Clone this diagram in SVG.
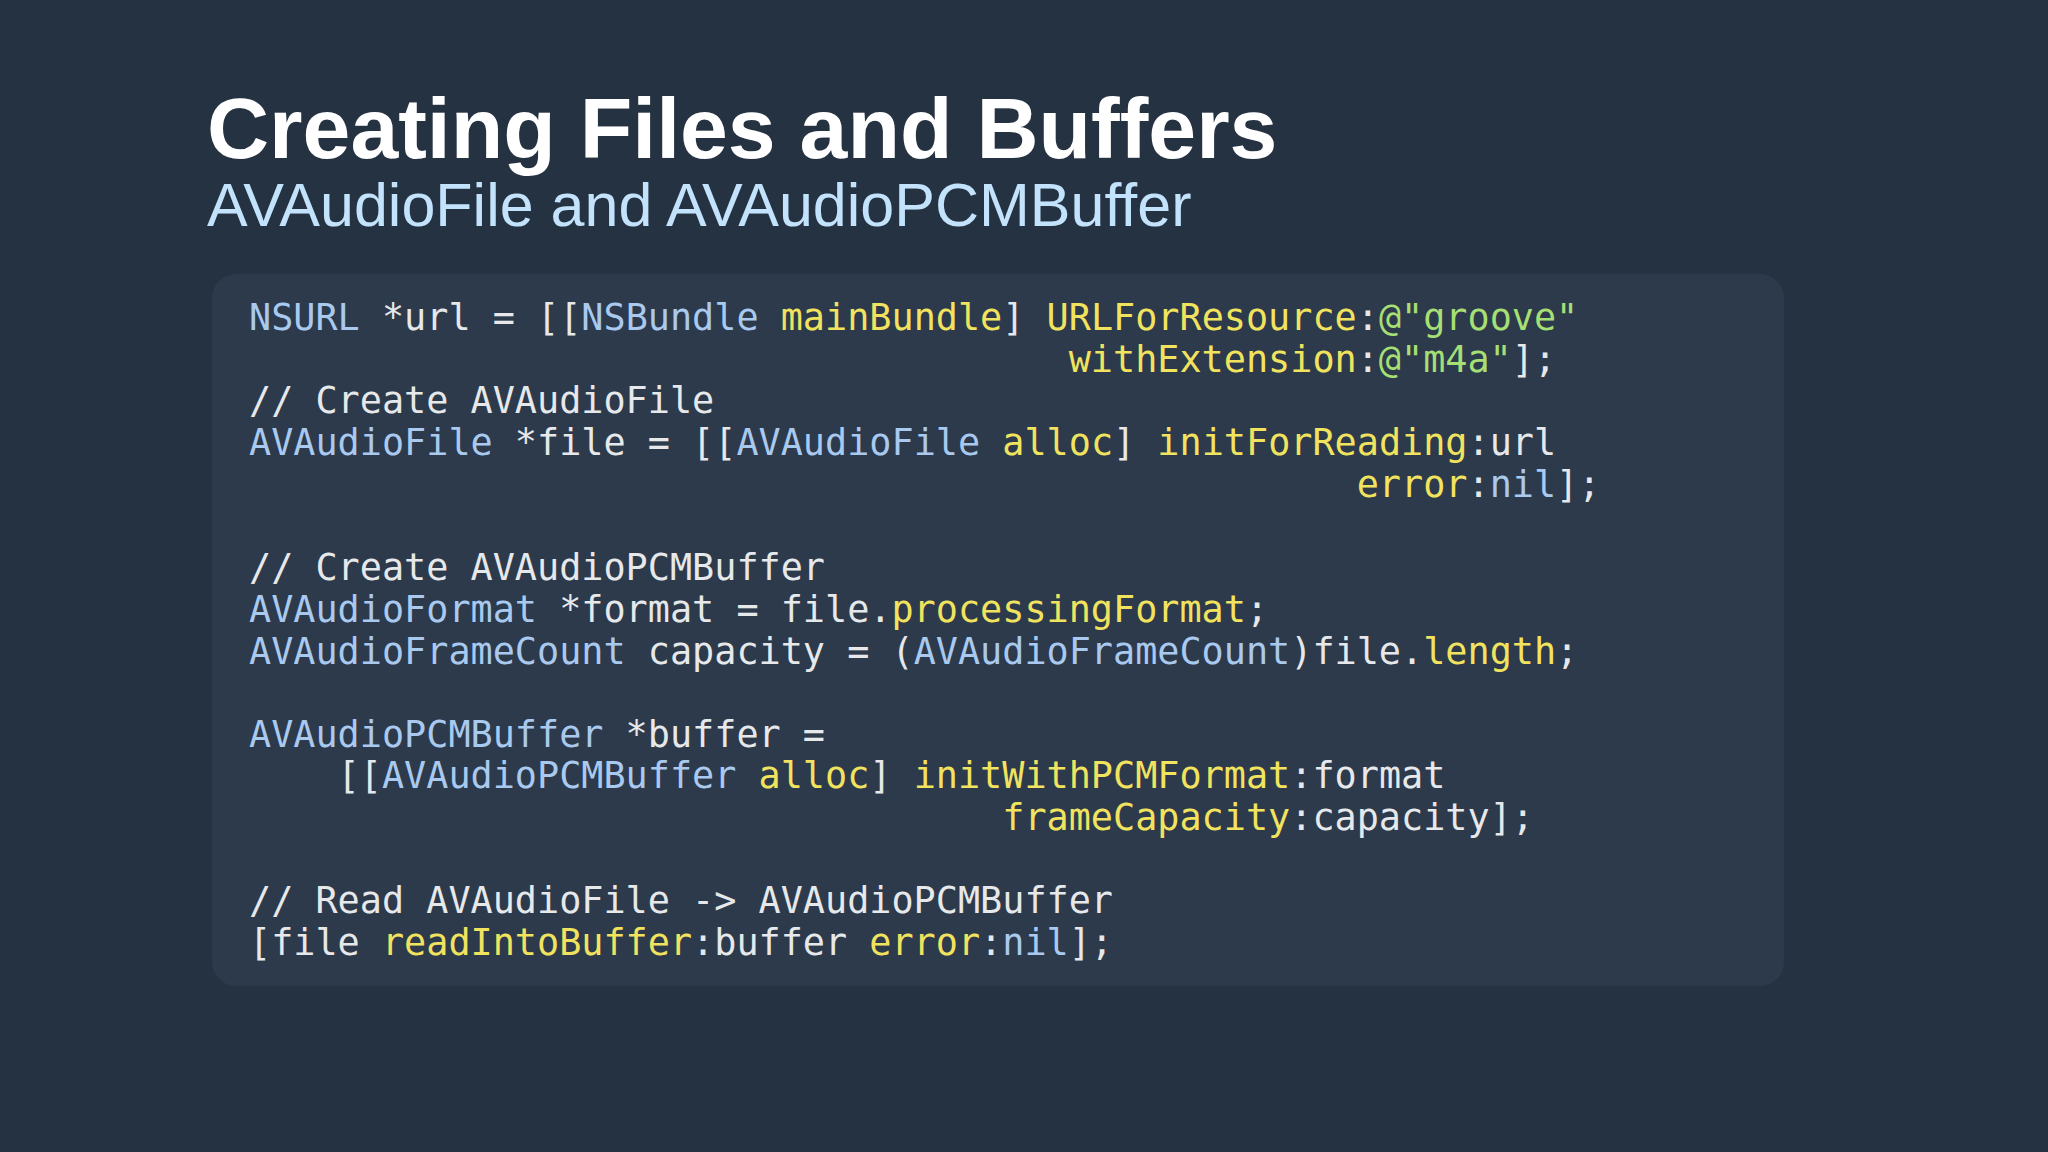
<svg xmlns="http://www.w3.org/2000/svg" width="2048" height="1152" viewBox="0 0 2048 1152">
<style>
.t{font-family:"Liberation Sans","Helvetica",sans-serif}
.c{font-family:"DejaVu Sans Mono",monospace;font-size:36.8px;fill:#e6e8ea;white-space:pre}
.k{fill:#a9c9ef}.m{fill:#f2e35f}.s{fill:#a6df73}
</style>
<rect width="2048" height="1152" fill="#253241"/>
<g id="title">
<text class="t" x="207" y="158" font-size="86" font-weight="bold" fill="#ffffff">Creating Files and Buffers</text>
<text class="t" x="207" y="226" font-size="61" fill="#c3e2fb">AVAudioFile and AVAudioPCMBuffer</text>
</g>
<g id="codebox">
<rect x="212" y="274" width="1572" height="712" rx="24" fill="#2c3a4c"/>
<text class="c" x="249" y="330"><tspan class="k">NSURL</tspan> *url = [[<tspan class="k">NSBundle</tspan> <tspan class="m">mainBundle</tspan>] <tspan class="m">URLForResource</tspan>:<tspan class="s">@"groove"</tspan></text>
<text class="c" x="249" y="372">                                     <tspan class="m">withExtension</tspan>:<tspan class="s">@"m4a"</tspan>];</text>
<text class="c" x="249" y="413">// Create AVAudioFile</text>
<text class="c" x="249" y="455"><tspan class="k">AVAudioFile</tspan> *file = [[<tspan class="k">AVAudioFile</tspan> <tspan class="m">alloc</tspan>] <tspan class="m">initForReading</tspan>:url</text>
<text class="c" x="249" y="497">                                                  <tspan class="m">error</tspan>:<tspan class="k">nil</tspan>];</text>
<text class="c" x="249" y="580">// Create AVAudioPCMBuffer</text>
<text class="c" x="249" y="622"><tspan class="k">AVAudioFormat</tspan> *format = file.<tspan class="m">processingFormat</tspan>;</text>
<text class="c" x="249" y="664"><tspan class="k">AVAudioFrameCount</tspan> capacity = (<tspan class="k">AVAudioFrameCount</tspan>)file.<tspan class="m">length</tspan>;</text>
<text class="c" x="249" y="747"><tspan class="k">AVAudioPCMBuffer</tspan> *buffer =</text>
<text class="c" x="249" y="788">    [[<tspan class="k">AVAudioPCMBuffer</tspan> <tspan class="m">alloc</tspan>] <tspan class="m">initWithPCMFormat</tspan>:format</text>
<text class="c" x="249" y="830">                                  <tspan class="m">frameCapacity</tspan>:capacity];</text>
<text class="c" x="249" y="913">// Read AVAudioFile -&gt; AVAudioPCMBuffer</text>
<text class="c" x="249" y="955">[file <tspan class="m">readIntoBuffer</tspan>:buffer <tspan class="m">error</tspan>:<tspan class="k">nil</tspan>];</text>
</g>
</svg>
